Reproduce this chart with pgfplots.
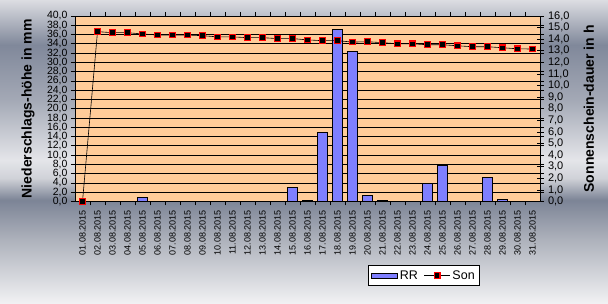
\documentclass[border=0pt]{standalone}
\usepackage{pgfplots}
\pgfplotsset{compat=1.18}
\usepackage{fontspec}
\setmainfont{Liberation Sans}
\definecolor{peach}{HTML}{FFCC99}
\definecolor{barblue}{HTML}{7F7FFF}
\definecolor{bgA}{HTML}{F2F2F4}
\definecolor{bgB}{HTML}{AEB2BC}
\definecolor{bgC}{HTML}{7C8496}
\definecolor{bgD}{HTML}{D0D2D8}
\definecolor{bgE}{HTML}{E4E5E9}
\definecolor{bgF}{HTML}{A4A9B6}
\definecolor{bgG}{HTML}{80889A}
\definecolor{bgH}{HTML}{DCDDE2}
\pgfdeclareverticalshading{metal}{100bp}{color(0bp)=(bgA); color(25bp)=(bgA); color(35.5bp)=(bgB); color(42.1bp)=(bgC); color(45.7bp)=(bgD); color(48.7bp)=(bgE); color(58.5bp)=(bgF); color(67.6bp)=(bgG); color(75bp)=(bgH); color(100bp)=(bgH)}
\pgfplotsset{
  rrleg/.style={legend image code/.code={\draw[##1] (0pt,-2.5pt) rectangle (26pt,2.5pt);}},
  sonleg/.style={legend image code/.code={\draw[##1, mark repeat=2, mark phase=2] plot coordinates {(0pt,0pt) (13pt,0pt) (26pt,0pt)};}},
}
\begin{document}
\begin{tikzpicture}[x=1pt,y=1pt]
\shade[shading=metal] (0,0) rectangle (608,304);
\useasboundingbox (0,0) rectangle (608,304);
\begin{axis}[
  at={(75pt,102.5pt)}, anchor=south west, scale only axis,
  width=465pt, height=185.5pt,
  xmin=-0.5, xmax=30.5, ymin=0, ymax=40,
  axis background/.style={fill=peach},
  axis line style={black, line width=0.8pt},
  xtick={0,...,30},
  xticklabels={01.08.2015,02.08.2015,03.08.2015,04.08.2015,05.08.2015,06.08.2015,07.08.2015,08.08.2015,09.08.2015,10.08.2015,11.08.2015,12.08.2015,13.08.2015,14.08.2015,15.08.2015,16.08.2015,17.08.2015,18.08.2015,19.08.2015,20.08.2015,21.08.2015,22.08.2015,23.08.2015,24.08.2015,25.08.2015,26.08.2015,27.08.2015,28.08.2015,29.08.2015,30.08.2015,31.08.2015},
  xticklabel style={rotate=90, anchor=east, font=\fontsize{9}{9}\selectfont, xshift=-1pt},
  major x tick style={draw=none},
  minor xtick={0.5,1.5,...,29.5},
  minor x tick style={black, line width=0.8pt},
  minor tick length=4pt,
  tick align=outside,
  ytick={0,2,...,40},
  major tick length=4pt,
  y tick style={black, line width=0.8pt},
  ymajorgrids, grid style={black, line width=0.7pt},
  yticklabel style={font=\fontsize{10.5}{10.5}\selectfont},
  /pgf/number format/.cd, fixed, fixed zerofill, precision=1, use comma, assume math mode=true,
  /pgfplots/.cd,
  ylabel={Niederschlags-höhe in mm},
  every axis y label/.style={at={(axis description cs:-0.101,0.5)}, rotate=90, anchor=center, font=\bfseries\fontsize{14}{14}\selectfont},
]
\addplot[ybar, bar width=10pt, draw=black, line width=0.8pt, fill=barblue] coordinates {
(4,0.8) (14,3.0) (15,0.2) (16,14.8) (17,37.1) (18,32.4) (19,1.3) (20,0.2) (23,3.8) (24,7.8) (27,5.1) (28,0.4)
};
\end{axis}
\begin{axis}[
  at={(75pt,102.5pt)}, anchor=south west, scale only axis,
  width=465pt, height=185.5pt,
  xmin=-0.5, xmax=30.5, ymin=0, ymax=16,
  axis y line*=right, axis x line=none,
  axis line style={black, line width=0.8pt},
  ytick={0,1,...,16},
  tick align=center, major tick length=7pt,
  y tick style={black, line width=0.8pt},
  yticklabel style={font=\fontsize{11}{11}\selectfont, xshift=1pt},
  /pgf/number format/.cd, fixed, fixed zerofill, precision=1, use comma, assume math mode=true,
  /pgfplots/.cd,
  ylabel={Sonnenschein-dauer in h},
  every axis y label/.style={at={(axis description cs:1.105,0.5)}, rotate=90, anchor=center, font=\bfseries\fontsize{14}{14}\selectfont},
  legend columns=2,
  legend style={at={(axis description cs:0.7505,-0.399)}, anchor=center, draw=black, line width=0.8pt, fill=white, font=\fontsize{12.5}{12.5}\selectfont, inner sep=2.5pt, /tikz/every even column/.append style={column sep=4pt}},
]
\addlegendimage{draw=black, line width=0.6pt, fill=barblue, rrleg}
\addplot[black, line width=0.6pt, mark=square*, mark size=2.8pt, mark options={fill=black, draw=red, line width=1.1pt}, sonleg] coordinates {
(0,0) (1,14.65) (2,14.56) (3,14.56) (4,14.45) (5,14.36) (6,14.36) (7,14.36) (8,14.3) (9,14.2) (10,14.2) (11,14.13) (12,14.13) (13,14.05) (14,14.05) (15,13.94) (16,13.87) (17,13.87) (18,13.75) (19,13.78) (20,13.7) (21,13.6) (22,13.6) (23,13.52) (24,13.52) (25,13.43) (26,13.35) (27,13.35) (28,13.26) (29,13.17) (30,13.15)
};
\legend{RR,Son}
\end{axis}
\end{tikzpicture}
\end{document}
